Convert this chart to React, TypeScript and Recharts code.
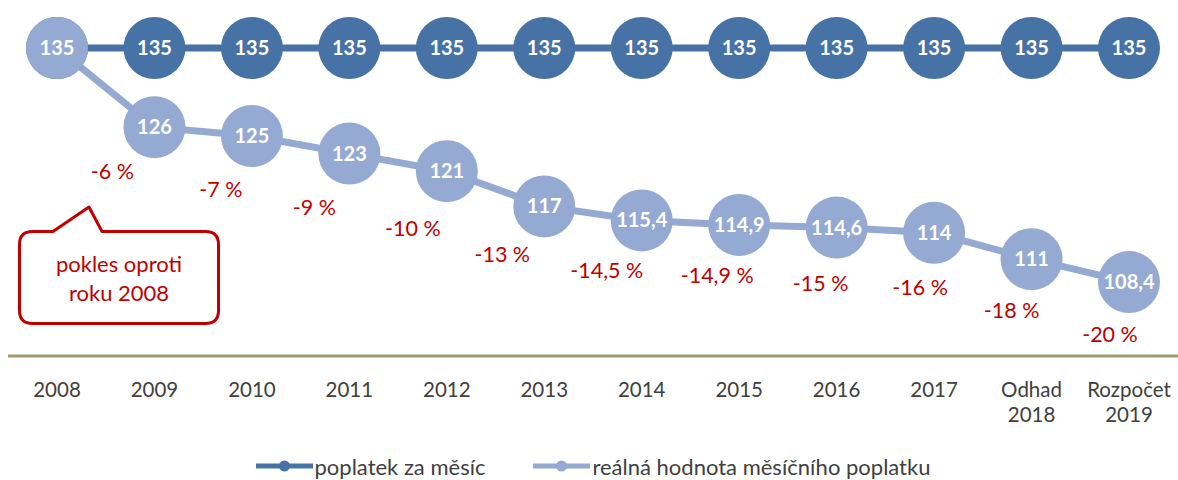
import { LineChart, Line, XAxis, YAxis, Legend } from 'recharts'

const years = ['2008', '2009', '2010', '2011', '2012', '2013', '2014', '2015', '2016', '2017', 'Odhad\n2018', 'Rozpočet\n2019']
const fee = [135, 135, 135, 135, 135, 135, 135, 135, 135, 135, 135, 135]
const real = [135, 126, 125, 123, 121, 117, 115.4, 114.9, 114.6, 114, 111, 108.4]
const drop = [null, -6, -7, -9, -10, -13, -14.5, -14.9, -15, -16, -18, -20]

// hand-placed offsets of the red % labels relative to each point (as in the original)
const dropNudge = [
  [0, 0], [-42, 44], [-31, 53], [-35, 54], [-34, 57], [-42, 48],
  [-35, 50], [-22, 51], [-16, 56], [-14, 55], [-20, 51], [-19, 52],
]

const DARK = '#4672a6'
const LIGHT = '#94aad2'
const RED = '#c00000'
const FONT = 'Lato, "Noto Sans", sans-serif'

const data = years.map((y, i) => ({ year: y, fee: fee[i], real: real[i], drop: drop[i] }))

const fmt = (v: number) => String(v).replace('.', ',')

function makeDot(color: string, key: 'fee' | 'real', showDrop: boolean) {
  return (props: any) => {
    const { cx, cy, index, payload } = props
    const d = payload.drop
    const [dx, dy] = dropNudge[index] || [0, 0]
    return (
      <g key={`${key}-${index}`}>
        <circle cx={cx} cy={cy} r={31} fill={color} />
        <text x={cx} y={cy + 7} textAnchor="middle" fill="#fff" fontSize={20} fontWeight="bold" fontFamily={FONT}>
          {fmt(payload[key])}
        </text>
        {showDrop && d != null && (
          <text x={cx + dx} y={cy + dy + 7.5} textAnchor="middle" fill={RED} fontSize={21.5} fontFamily={FONT}>
            {`${fmt(d)} %`}
          </text>
        )}
      </g>
    )
  }
}

const YearTick = ({ x, y, payload }: any) => {
  const lines = String(payload.value).split('\n')
  return (
    <text x={x} y={y + 39} textAnchor="middle" fill="#404040" fontSize={20.5} fontFamily={FONT}>
      {lines.map((l, i) => (
        <tspan key={i} x={x} dy={i === 0 ? 0 : 25}>{l}</tspan>
      ))}
    </text>
  )
}

const LegendBox = ({ payload }: any) => (
  <div style={{ display: 'flex', justifyContent: 'center', alignItems: 'center', height: 28, fontFamily: FONT, fontSize: 22, color: '#404040' }}>
    {(payload || []).map((p: any, i: number) => (
      <div key={i} style={{ display: 'flex', alignItems: 'center', marginRight: i === 0 ? 48 : 0 }}>
        <svg width={57} height={20} style={{ marginRight: 2 }}>
          <line x1={0} y1={10} x2={57} y2={10} stroke={p.color} strokeWidth={5} strokeLinecap="round" />
          <circle cx={28.5} cy={10} r={5.5} fill={p.color} />
        </svg>
        <span>{p.value}</span>
      </div>
    ))}
  </div>
)

export default function App() {
  return (
    <div style={{ position: 'absolute', left: 0, top: 0, width: 1178, height: 480, background: '#fff' }}>
      <LineChart width={1178} height={480} data={data} margin={{ top: 4, right: 0, left: 8, bottom: 0 }}>
        <XAxis
          dataKey="year"
          padding={{ left: 49, right: 49 }}
          height={96}
          axisLine={{ stroke: '#a09a6a', strokeWidth: 3 }}
          tickLine={false}
          tickSize={0}
          interval={0}
          tick={<YearTick />}
        />
        <YAxis hide domain={[100, 140]} />
        <Legend verticalAlign="bottom" content={<LegendBox />} wrapperStyle={{ height: 28 }} />
        <Line
          dataKey="fee"
          name="poplatek za měsíc"
          stroke={DARK}
          strokeWidth={7}
          dot={makeDot(DARK, 'fee', false)}
          activeDot={false}
          isAnimationActive={false}
        />
        <Line
          dataKey="real"
          name="reálná hodnota měsíčního poplatku"
          stroke={LIGHT}
          strokeWidth={7}
          dot={makeDot(LIGHT, 'real', true)}
          activeDot={false}
          isAnimationActive={false}
        />
      </LineChart>
      {/* callout */}
      <svg width={240} height={130} style={{ position: 'absolute', left: 0, top: 200 }}>
        <path
          d="M 32.5 31.5 L 53 31.5 L 89 7 L 102 31.5 L 205.5 31.5 Q 218.5 31.5 218.5 44.5 L 218.5 110.5 Q 218.5 123.5 205.5 123.5 L 32.5 123.5 Q 19.5 123.5 19.5 110.5 L 19.5 44.5 Q 19.5 31.5 32.5 31.5 Z"
          fill="#fff"
          stroke={RED}
          strokeWidth={3}
          strokeLinejoin="round"
        />
        <text x={119} y={71.5} textAnchor="middle" fill={RED} fontSize={22} fontFamily={FONT}>pokles oproti</text>
        <text x={119} y={100.5} textAnchor="middle" fill={RED} fontSize={22} fontFamily={FONT}>roku 2008</text>
      </svg>
    </div>
  )
}
